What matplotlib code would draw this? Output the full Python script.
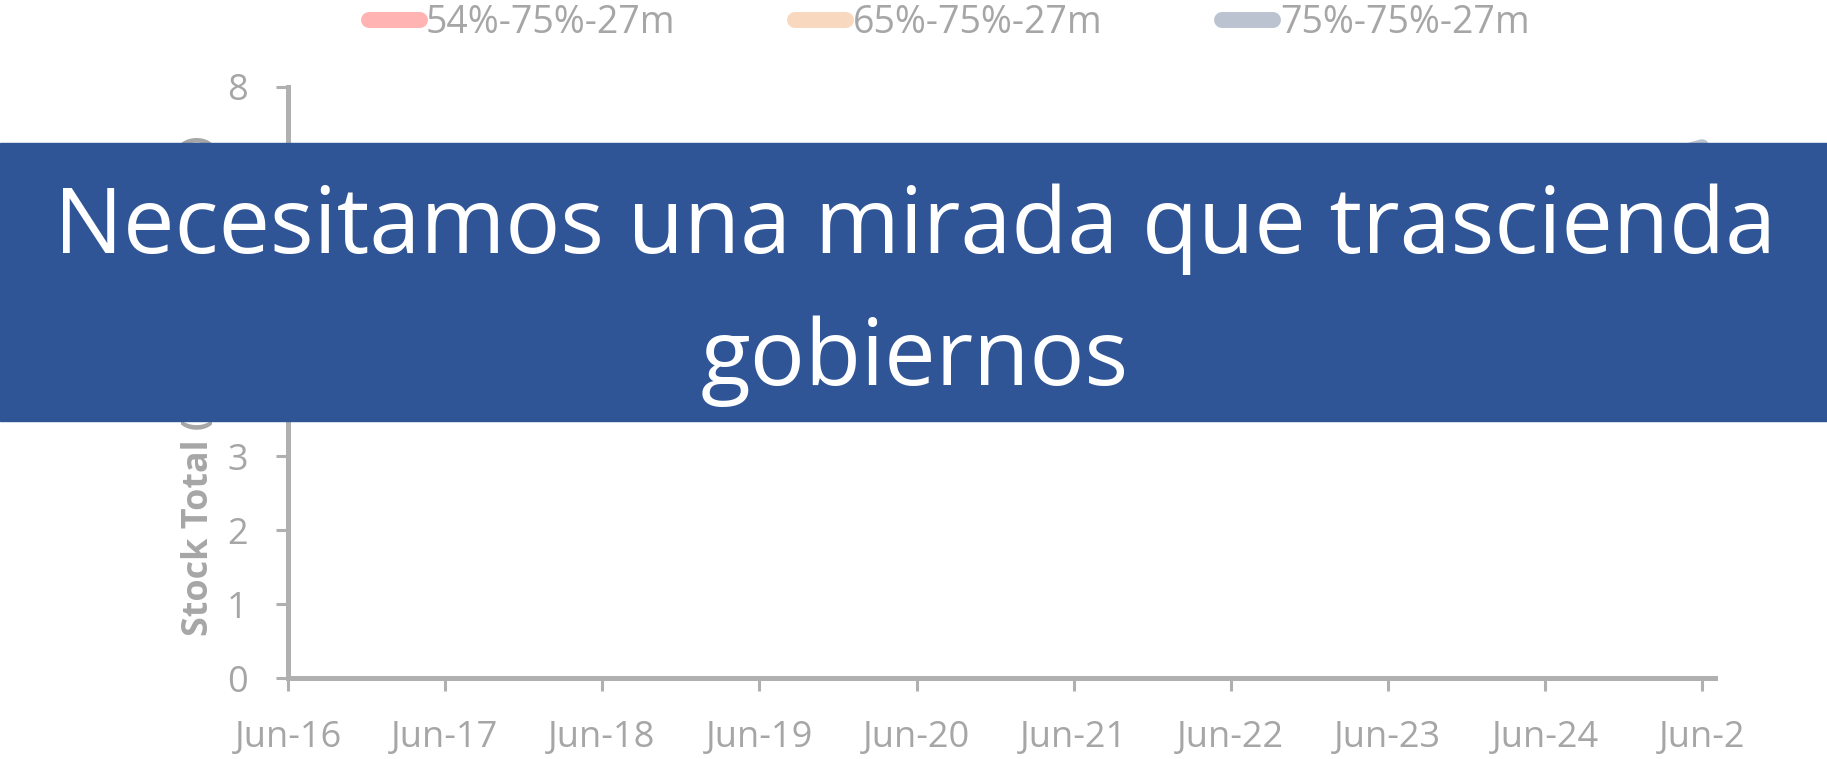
import matplotlib
matplotlib.use("Agg")
import matplotlib.pyplot as plt
from matplotlib.patches import Rectangle
import datetime as dt

plt.rcParams['font.family'] = ['Open Sans', 'DejaVu Sans']

# ---- data ----
years = [2016, 2017, 2018, 2019, 2020, 2021, 2022, 2023, 2024, 2025]
series_labels = ["54%-75%-27m", "65%-75%-27m", "75%-75%-27m"]
s54 = [3.9, 4.0, 4.2, 4.3, 4.5, 4.6, 4.8, 5.0, 5.1, 5.3]
s65 = [3.9, 4.1, 4.4, 4.6, 4.9, 5.1, 5.4, 5.6, 5.9, 6.1]
s75 = [3.9, 4.2, 4.6, 4.9, 5.3, 5.6, 6.0, 6.3, 6.6, 7.2]
tick_labels = ["Jun-16", "Jun-17", "Jun-18", "Jun-19", "Jun-20",
               "Jun-21", "Jun-22", "Jun-23", "Jun-24", "Jun-2"]
colors = ["#FFB3B3", "#F8D8BF", "#BCC3D0"]
ylabel = "Stock Total (millones de m3)"
banner_lines = ["Necesitamos una mirada que trascienda", "gobiernos"]

dates = [dt.date(y, 6, 1) for y in years]

W, H = 1827, 759
fig = plt.figure(figsize=(W / 100, H / 100), dpi=100)
ax = fig.add_axes([288 / W, 1 - 678 / H, (1715 - 288) / W, (678 - 87) / H])

grey = "#A6A6A6"
axcol = "#B0B0B0"
handles = []
for vals, c, lab in zip([s54, s65, s75], colors, series_labels):
    ln, = ax.plot(dates, vals, color=c, lw=10, solid_capstyle='round',
                  solid_joinstyle='round', label=lab)
    handles.append(ln)

ax.set_xlim(dt.date(2016, 6, 1), dt.date(2025, 7, 1))
ax.set_ylim(0, 8)
ax.set_yticks(range(0, 9))
ax.set_xticks(dates)
ax.set_xticklabels(tick_labels)
for s in ['top', 'right']:
    ax.spines[s].set_visible(False)
for s in ['left', 'bottom']:
    ax.spines[s].set_color(axcol)
    ax.spines[s].set_linewidth(3.6)
ax.tick_params(axis='both', colors=axcol, labelcolor=grey, labelsize=26,
               length=9, width=2.2, direction='out')
ax.tick_params(axis='y', pad=20)
ax.tick_params(axis='x', pad=21)
ax.set_ylabel(ylabel, color=grey, fontsize=25.8, fontweight='bold', labelpad=7)
ax.yaxis.label.set_y(0.4945)

leg = fig.legend(handles=handles, loc='upper center', bbox_to_anchor=(949 / W, 1.019),
                 ncol=3, frameon=False, fontsize=27, handlelength=1.36,
                 handletextpad=0.17, columnspacing=3.2, borderpad=0)
for t in leg.get_texts():
    t.set_color(grey)
for lh in leg.legend_handles:
    lh.set_linewidth(11.5)

# banner
fig.patches.append(Rectangle((0, 1 - 421 / H), 1, (421 - 143) / H,
                             transform=fig.transFigure, color="#2F5597", zorder=10))
fig.text(915 / W, 1 - 253 / H, banner_lines[0], color='white', fontsize=66,
         ha='center', va='baseline', zorder=11)
fig.text(915 / W, 1 - 385 / H, banner_lines[1], color='white', fontsize=66,
         ha='center', va='baseline', zorder=11)

fig.savefig("out.png", dpi=100)
